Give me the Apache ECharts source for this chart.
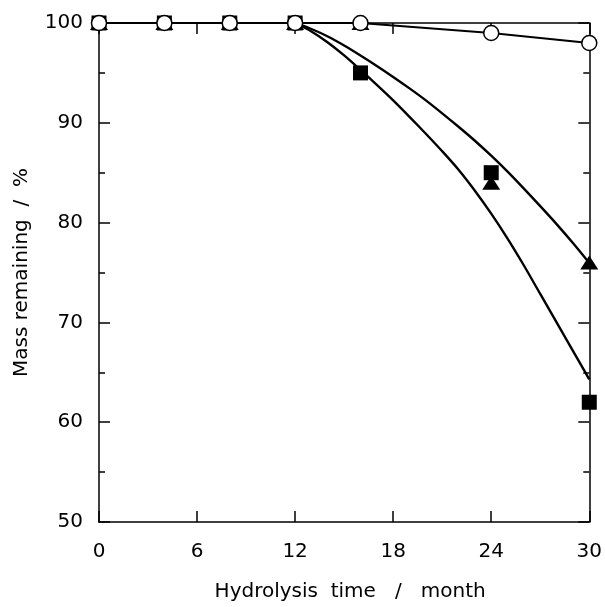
<!DOCTYPE html>
<html>
<head>
<meta charset="utf-8">
<script src="https://cdn.jsdelivr.net/npm/echarts@6/dist/echarts.min.js"></script>
<style>
html,body{margin:0;padding:0;background:#fff;}
#chart{width:605px;height:607px;}
</style>
</head>
<body>
<div id="chart"></div>
<script>
// Data
var months = [0, 4, 8, 12, 16, 24, 30];
var circleVals = [100, 100, 100, 100, 100, 99, 98];
var triangleVals = [100, 100, 100, 100, 100, 84, 76];
var squareVals = [100, 100, 100, 100, 95, 85, 62];

// fitted curves
var fitMonths = [12, 13, 14, 15, 16, 17, 18, 19, 20, 21, 22, 23, 24, 25, 26, 27, 28, 29, 30];
var fitTriangle = [100, 99.4, 98.65, 97.75, 96.75, 95.7, 94.6, 93.45, 92.25, 90.95, 89.6, 88.2, 86.7, 85.1, 83.4, 81.65, 79.85, 77.95, 75.95];
var fitSquare = [100, 99.15, 98.05, 96.75, 95.3, 93.8, 92.25, 90.6, 88.9, 87.15, 85.3, 83.2, 80.9, 78.4, 75.7, 72.85, 70.0, 67.15, 64.3];

var xTicks = [0, 6, 12, 18, 24, 30];
var yTicks = [50, 60, 70, 80, 90, 100];

function pairs(xs, ys) { return xs.map(function (x, i) { return [x, ys[i]]; }); }

var FONT = 'DejaVu Sans, Verdana, sans-serif';
var FS = 20;
var axisLine = { show: true, onZero: false, lineStyle: { color: '#000', width: 1.5 } };
var tick = { show: true, inside: true, length: 11, lineStyle: { color: '#000', width: 1.5 } };
var minor = { show: true, splitNumber: 2, length: 6, lineStyle: { color: '#000', width: 1.5 } };

var chart = echarts.init(document.getElementById('chart'), null, { renderer: 'canvas' });
chart.setOption({
  animation: false,
  backgroundColor: '#fff',
  grid: { left: 99, right: 15, top: 23, bottom: 79, containLabel: false },
  xAxis: [
    {
      type: 'value', min: xTicks[0], max: xTicks[xTicks.length - 1], interval: 6,
      position: 'bottom',
      name: 'Hydrolysis  time   /   month', nameLocation: 'middle', nameGap: 60,
      nameTextStyle: { fontFamily: FONT, fontSize: FS, color: '#000', padding: [0, 0, 0, 12] },
      axisLine: axisLine, axisTick: tick,
      axisLabel: { show: true, margin: 20, fontFamily: FONT, fontSize: FS, color: '#000' },
      splitLine: { show: false }
    },
    {
      type: 'value', min: xTicks[0], max: xTicks[xTicks.length - 1], interval: 6,
      position: 'top',
      axisLine: axisLine, axisTick: tick,
      axisLabel: { show: false },
      splitLine: { show: false }
    }
  ],
  yAxis: [
    {
      type: 'value', min: yTicks[0], max: yTicks[yTicks.length - 1], interval: 10,
      position: 'left',
      name: 'Mass remaining  /  %', nameLocation: 'middle', nameGap: 67,
      nameTextStyle: { fontFamily: FONT, fontSize: FS, color: '#000' },
      axisLine: axisLine, axisTick: tick, minorTick: minor,
      axisLabel: { show: true, margin: 16, fontFamily: FONT, fontSize: FS, color: '#000' },
      splitLine: { show: false }
    },
    {
      type: 'value', min: yTicks[0], max: yTicks[yTicks.length - 1], interval: 10,
      position: 'right',
      axisLine: axisLine, axisTick: tick, minorTick: minor,
      axisLabel: { show: false },
      splitLine: { show: false }
    }
  ],
  series: [
    {
      type: 'line', data: pairs(fitMonths, fitTriangle), smooth: 0.3,
      showSymbol: false, clip: false, z: 2,
      lineStyle: { color: '#000', width: 2.4 }
    },
    {
      type: 'line', data: pairs(fitMonths, fitSquare), smooth: 0.3,
      showSymbol: false, clip: false, z: 2,
      lineStyle: { color: '#000', width: 2.4 }
    },
    {
      type: 'scatter', data: pairs(months, squareVals), symbol: 'rect', symbolSize: 15,
      clip: false, z: 3,
      itemStyle: { color: '#000', opacity: 1 }
    },
    {
      type: 'scatter', data: pairs(months, triangleVals), symbol: 'triangle', symbolSize: [18, 14],
      clip: false, z: 4,
      itemStyle: { color: '#000', opacity: 1 }
    },
    {
      type: 'line', data: pairs(months, circleVals), symbol: 'circle', symbolSize: 15, showAllSymbol: true,
      clip: false, z: 5,
      lineStyle: { color: '#000', width: 2 },
      itemStyle: { color: '#fff', borderColor: '#000', borderWidth: 1.5, opacity: 1 }
    }
  ]
});
</script>
</body>
</html>
